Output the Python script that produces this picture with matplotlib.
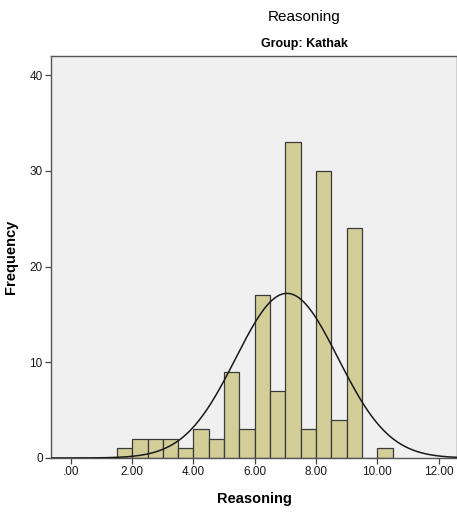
import numpy as np
import matplotlib
matplotlib.use('Agg')
import matplotlib.pyplot as plt

# histogram bins (left edges, width 0.5) and counts
bin_edges = [1.5, 2.0, 2.5, 3.0, 3.5, 4.0, 4.5, 5.0, 5.5, 6.0, 6.5, 7.0,
             7.5, 8.0, 8.5, 9.0, 9.5, 10.0, 10.5]
counts = [1, 2, 2, 2, 1, 3, 2, 9, 3, 17, 7, 33, 3, 30, 4, 24, 0, 1]
bin_width = 0.5

# normal curve parameters (estimated from the drawn curve)
mean = 7.05
std_dev = 1.67
n_total = sum(counts)

x_ticks = [0, 2, 4, 6, 8, 10, 12]
x_tick_labels = ['.00', '2.00', '4.00', '6.00', '8.00', '10.00', '12.00']
y_ticks = [0, 10, 20, 30, 40]

plt.rcParams['font.family'] = ['Liberation Sans', 'DejaVu Sans']

fig = plt.figure(figsize=(4.57, 5.12), dpi=100)
ax = fig.add_axes([51 / 457, 1 - 458 / 512, 1 - 51 / 457, (458 - 56) / 512])
ax.set_facecolor('#f0f0f0')

ax.bar(bin_edges[:-1], counts, width=bin_width, align='edge',
       color='#d3ce98', edgecolor='#3a3a3a', linewidth=0.9, zorder=2)

xs = np.linspace(-0.7, 12.7, 400)
pdf = n_total * bin_width / (std_dev * np.sqrt(2 * np.pi)) * \
    np.exp(-0.5 * ((xs - mean) / std_dev) ** 2)
ax.plot(xs, pdf, color='#1a1a1a', lw=1.1, zorder=3)

ax.set_xlim(-0.65, 12.6)
ax.set_ylim(0, 42)
ax.set_xticks(x_ticks)
ax.set_xticklabels(x_tick_labels)
ax.set_yticks(y_ticks)
ax.tick_params(direction='out', length=4, width=0.9, colors='#444444',
               labelcolor='#1a1a1a', labelsize=8.5, pad=2)
for side in ['left', 'bottom', 'top', 'right']:
    ax.spines[side].set_color('#555555')
    ax.spines[side].set_linewidth(1.0)

ax.set_xlabel('Reasoning', fontsize=10.5, fontweight='bold', labelpad=10)
ax.set_ylabel('Frequency', fontsize=10.5, fontweight='bold', labelpad=8)

fig.text(304 / 457, 1 - 17 / 512, 'Reasoning', ha='center', va='center',
         fontsize=11)
fig.text(304 / 457, 1 - 44 / 512, 'Group: Kathak', ha='center', va='center',
         fontsize=9, fontweight='bold')

fig.savefig('out.png', dpi=100)
